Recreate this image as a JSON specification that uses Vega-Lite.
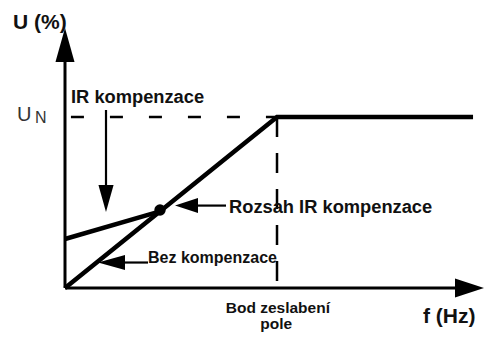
{
  "$schema": "https://vega.github.io/schema/vega-lite/v6.json",
  "width": 418,
  "height": 260,
  "autosize": {"type": "none"},
  "padding": {"left": 65, "top": 28, "right": 1, "bottom": 49},
  "background": "white",
  "config": {"view": {"stroke": null}},
  "encoding": {
    "x": {"field": "f", "type": "quantitative", "scale": {"domain": [0, 98.58], "nice": false, "zero": false}, "axis": null},
    "y": {"field": "u", "type": "quantitative", "scale": {"domain": [0, 152.05], "nice": false, "zero": false}, "axis": null}
  },
  "layer": [
    {
      "data": {"values": [
        {"seg": "yaxis", "i": 0, "f": 0, "u": 0},
        {"seg": "yaxis", "i": 1, "f": 0, "u": 140},
        {"seg": "xaxis", "i": 0, "f": 0, "u": 0},
        {"seg": "xaxis", "i": 1, "f": 93, "u": 0}
      ]},
      "mark": {"type": "line", "color": "black", "strokeWidth": 3, "strokeCap": "butt"},
      "encoding": {"detail": {"field": "seg"}, "order": {"field": "i"}}
    },
    {
      "data": {"values": [
        {"i": 0, "f": 1.4, "u": 100},
        {"i": 1, "f": 50, "u": 100}
      ]},
      "mark": {"type": "line", "color": "black", "strokeWidth": 2.5, "strokeDash": [13, 26], "strokeCap": "butt"},
      "encoding": {"order": {"field": "i"}}
    },
    {
      "data": {"values": [
        {"i": 0, "f": 50, "u": 100},
        {"i": 1, "f": 50, "u": 0}
      ]},
      "mark": {"type": "line", "color": "black", "strokeWidth": 2.5, "strokeDash": [20, 16], "strokeCap": "butt"},
      "encoding": {"order": {"field": "i"}}
    },
    {
      "data": {"values": [
        {"i": 0, "f": 0, "u": 0},
        {"i": 1, "f": 50, "u": 100},
        {"i": 2, "f": 96.23, "u": 100}
      ]},
      "mark": {"type": "line", "color": "black", "strokeWidth": 4.5, "strokeCap": "butt", "strokeJoin": "miter"},
      "encoding": {"order": {"field": "i"}}
    },
    {
      "data": {"values": [
        {"i": 0, "f": 0, "u": 28.65},
        {"i": 1, "f": 22.41, "u": 44.8}
      ]},
      "mark": {"type": "line", "color": "black", "strokeWidth": 4.5, "strokeCap": "butt"},
      "encoding": {"order": {"field": "i"}}
    },
    {
      "data": {"values": [
        {"seg": "ir", "i": 0, "f": 9.67, "u": 104.1},
        {"seg": "ir", "i": 1, "f": 9.67, "u": 57.3},
        {"seg": "rozsah", "i": 0, "f": 30.66, "u": 48.2},
        {"seg": "rozsah", "i": 1, "f": 37.97, "u": 48.2},
        {"seg": "bez", "i": 0, "f": 13.44, "u": 14.9},
        {"seg": "bez", "i": 1, "f": 19.58, "u": 14.9}
      ]},
      "mark": {"type": "line", "color": "black", "strokeWidth": 2.2, "strokeCap": "butt"},
      "encoding": {"detail": {"field": "seg"}, "order": {"field": "i"}}
    },
    {
      "data": {"values": [{"f": 0, "u": 142.1}]},
      "mark": {"type": "point", "shape": "M0,-1L0.56,1L-0.56,1Z", "size": 1156, "filled": true, "color": "black", "opacity": 1, "strokeWidth": 0}
    },
    {
      "data": {"values": [{"f": 95.4, "u": 0}]},
      "mark": {"type": "point", "shape": "M1,0L-1,-0.66L-1,0.66Z", "size": 841, "filled": true, "color": "black", "opacity": 1, "strokeWidth": 0}
    },
    {
      "data": {"values": [{"f": 9.67, "u": 52.3}]},
      "mark": {"type": "point", "shape": "M0,1L0.56,-1L-0.56,-1Z", "size": 729, "filled": true, "color": "black", "opacity": 1, "strokeWidth": 0}
    },
    {
      "data": {"values": [{"f": 28.66, "u": 48.2}]},
      "mark": {"type": "point", "shape": "M-1,0L1,-0.65L1,0.65Z", "size": 529, "filled": true, "color": "black", "opacity": 1, "strokeWidth": 0}
    },
    {
      "data": {"values": [{"f": 10.97, "u": 14.9}]},
      "mark": {"type": "point", "shape": "M-1,0L1,-0.56L1,0.56Z", "size": 729, "filled": true, "color": "black", "opacity": 1, "strokeWidth": 0}
    },
    {
      "data": {"values": [{"f": 22.41, "u": 45.6}]},
      "mark": {"type": "point", "shape": "circle", "size": 130, "filled": true, "color": "black", "opacity": 1}
    },
    {
      "data": {"values": [
        {"f": -12.26, "u": 151.5, "t": "U (%)"},
        {"f": 84.43, "u": -20.5, "t": "f (Hz)"}
      ]},
      "mark": {"type": "text", "font": "Liberation Sans", "fontWeight": "bold", "fontSize": 21, "align": "left", "baseline": "alphabetic", "color": "#111"},
      "encoding": {"text": {"field": "t"}}
    },
    {
      "data": {"values": [
        {"f": 1.42, "u": 108.2, "t": "IR kompenzace"},
        {"f": 38.68, "u": 43.9, "t": "Rozsah IR kompenzace"}
      ]},
      "mark": {"type": "text", "font": "Liberation Sans", "fontWeight": "bold", "fontSize": 18.3, "align": "left", "baseline": "alphabetic", "color": "#111"},
      "encoding": {"text": {"field": "t"}}
    },
    {
      "data": {"values": [
        {"f": 19.58, "u": 14.6, "t": "Bez kompenzace"}
      ]},
      "mark": {"type": "text", "font": "Liberation Sans", "fontWeight": "bold", "fontSize": 16, "align": "left", "baseline": "alphabetic", "color": "#111"},
      "encoding": {"text": {"field": "t"}}
    },
    {
      "data": {"values": [
        {"f": 50.2, "u": -14.6, "t": "Bod zeslabení"},
        {"f": 49.8, "u": -24.0, "t": "pole"}
      ]},
      "mark": {"type": "text", "font": "Liberation Sans", "fontWeight": "bold", "fontSize": 15.5, "align": "center", "baseline": "alphabetic", "color": "#111"},
      "encoding": {"text": {"field": "t"}}
    },
    {
      "data": {"values": [{"f": -11.3, "u": 97.7, "t": "U"}]},
      "mark": {"type": "text", "font": "Liberation Sans", "fontSize": 20, "align": "left", "baseline": "alphabetic", "color": "#333"},
      "encoding": {"text": {"field": "t"}}
    },
    {
      "data": {"values": [{"f": -7.1, "u": 96.5, "t": "N"}]},
      "mark": {"type": "text", "font": "Liberation Sans", "fontSize": 16, "align": "left", "baseline": "alphabetic", "color": "#333"},
      "encoding": {"text": {"field": "t"}}
    }
  ]
}
